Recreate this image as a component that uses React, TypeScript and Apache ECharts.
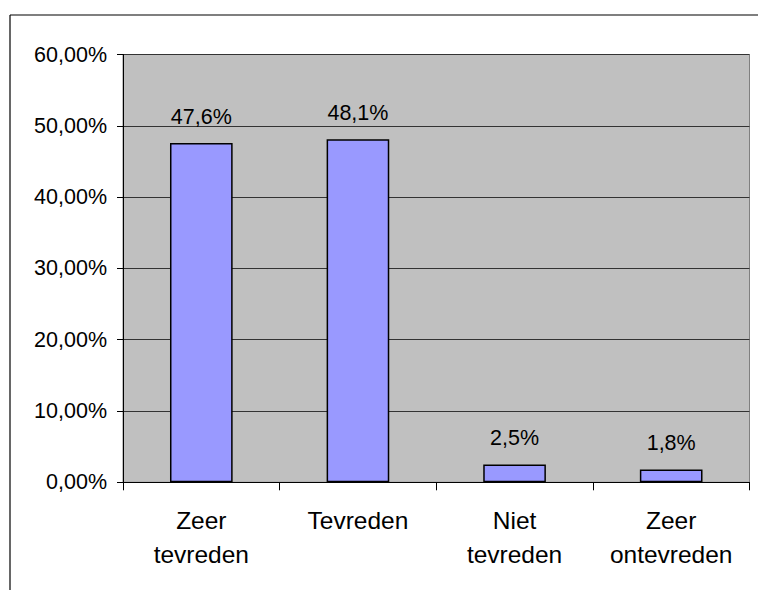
import React, { useEffect, useRef } from "react";
import * as echarts from "echarts";

const categories = ["Zeer\ntevreden", "Tevreden", "Niet\ntevreden", "Zeer\nontevreden"];
const values = [47.6, 48.1, 2.5, 1.8];
const yMin = 0;
const yMax = 60;
const yInterval = 10;

const FONT = "'Liberation Sans', Arial, sans-serif";

export default function App() {
  const ref = useRef<HTMLDivElement>(null);
  useEffect(() => {
    if (!ref.current) return;
    const chart = echarts.init(ref.current, undefined, { renderer: "svg" });
    chart.setOption({
      animation: false,
      backgroundColor: "#ffffff",
      textStyle: { fontFamily: FONT },
      grid: {
        left: 123,
        right: 8.5,
        top: 54.5,
        bottom: 107.7,
        show: true,
        backgroundColor: "#C0C0C0",
        borderColor: "#808080",
        borderWidth: 1,
      },
      xAxis: {
        type: "category",
        data: categories,
        axisLine: { lineStyle: { color: "#000", width: 1 } },
        axisTick: { show: true, length: 8, lineStyle: { color: "#000" } },
        axisLabel: {
          color: "#000",
          fontSize: 24.5,
          fontFamily: FONT,
          lineHeight: 34,
          margin: 21,
          interval: 0,
        },
      },
      yAxis: {
        type: "value",
        min: yMin,
        max: yMax,
        interval: yInterval,
        axisLine: { show: true, lineStyle: { color: "#000", width: 1 } },
        axisTick: { show: true, length: 6, lineStyle: { color: "#000" } },
        splitLine: { show: true, lineStyle: { color: "#333", width: 1 } },
        axisLabel: {
          color: "#000",
          fontSize: 21.5,
          fontFamily: FONT,
          margin: 16,
          formatter: (v: number) => v.toFixed(2).replace(".", ",") + "%",
        },
      },
      series: [
        {
          type: "bar",
          data: values,
          barWidth: "40%",
          itemStyle: { color: "#9999FF", borderColor: "#000", borderWidth: 1.5 },
          label: {
            show: true,
            position: "top",
            distance: 15,
            color: "#000",
            fontSize: 21.5,
            fontFamily: FONT,
            formatter: (p: any) => p.value.toFixed(1).replace(".", ",") + "%",
          },
        },
      ],
      graphic: [
        { type: "line", shape: { x1: 10, y1: 15, x2: 758, y2: 15 }, style: { stroke: "#000", lineWidth: 1.2 } },
        { type: "line", shape: { x1: 10, y1: 15, x2: 10, y2: 590 }, style: { stroke: "#000", lineWidth: 1.2 } },
      ],
    });
    return () => chart.dispose();
  }, []);
  return (
    <div
      ref={ref}
      style={{ position: "fixed", left: 0, top: 0, width: 758, height: 590 }}
    />
  );
}
